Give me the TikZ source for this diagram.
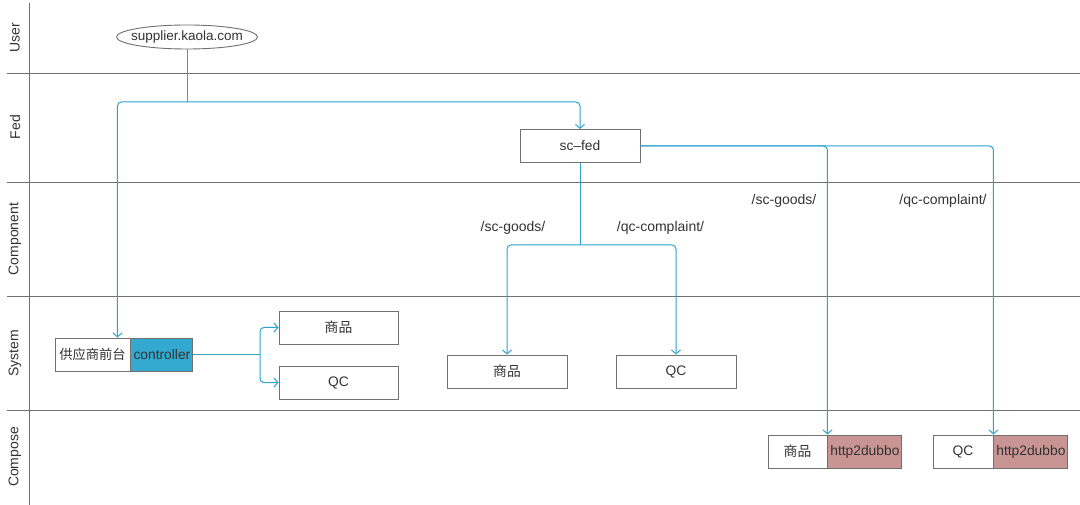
\documentclass[tikz,border=0pt]{standalone}
\usepackage{fontspec}
\setmainfont{Liberation Sans}
\newfontfamily\cjk{Noto Sans CJK SC}
\usetikzlibrary{arrows.meta,shapes.geometric}
\definecolor{lane}{HTML}{707070}
\definecolor{flow}{HTML}{2EA3CF}
\definecolor{ctrl}{HTML}{34A9CF}
\definecolor{dub}{HTML}{C99594}
\definecolor{txt}{HTML}{333333}
\tikzset{
  box/.style={draw=lane, line width=0.9pt, fill=white, minimum height=33pt, minimum width=120pt,
    inner sep=0pt, font=\fontsize{13.8}{16}\selectfont, text=txt},
  flowline/.style={draw=flow, line width=1pt, rounded corners=4pt},
  arr/.style={-{Straight Barb[length=4pt,width=9pt]}},
  laneline/.style={draw=lane, line width=0.9pt},
  lanelbl/.style={rotate=90, font=\fontsize{14}{16}\selectfont, text=txt},
  lbl/.style={font=\fontsize{14}{16}\selectfont, text=txt, inner sep=0pt}
}
\begin{document}
\begin{tikzpicture}[x=1pt,y=-1pt]
\useasboundingbox[fill=white] (0,0) rectangle (1080,505);
% lanes
\draw[laneline] (29,3) -- (29,505);
\draw[laneline] (7,73) -- (1080,73);
\draw[laneline] (7,182) -- (1080,182);
\draw[laneline] (7,296) -- (1080,296);
\draw[laneline] (7,410) -- (1080,410);
\node[lanelbl] (lu) at (15,38) {User};
\node[lanelbl] (lf) at (15,127) {Fed};
\node[lanelbl] (lc) at (15,239) {Component};
\node[lanelbl] (ls) at (15,353) {System};
\node[lanelbl] (lo) at (15,457) {Compose};
% nodes
\node[ellipse, draw=lane, line width=0.9pt, minimum width=141pt, minimum height=24pt, inner sep=0pt,
  font=\fontsize{13.5}{16}\selectfont, text=txt] (sup) at (187,37) {\makebox[0pt]{supplier.kaola.com}};
\node[box] (fed) at (580,146) {sc–fed};
\node[box, minimum width=75pt] (gys) at (92.5,354.5) {\cjk\fontsize{13.3}{16}\selectfont 供应商前台};
\node[box, fill=ctrl, minimum width=62pt, anchor=west] (ctl) at (gys.east) {controller};
\node[box, minimum width=119pt] (sp1) at (338.5,327.5) {\cjk 商品};
\node[box, minimum width=119pt] (qc1) at (338.5,382.5) {QC};
\node[box] (sp2) at (507,371.5) {\cjk 商品};
\node[box] (qc2) at (676,371.5) {QC};
\node[box, minimum width=59pt] (sp3) at (797.5,451.5) {\cjk 商品};
\node[box, fill=dub, minimum width=74pt, anchor=west] (hd1) at (sp3.east) {http2dubbo};
\node[box, minimum width=60pt] (qc3) at (963,451.5) {QC};
\node[box, fill=dub, minimum width=74pt, anchor=west] (hd2) at (qc3.east) {http2dubbo};
% labels
\node[lbl] (l1) at (513,228) {/sc-goods/};
\node[lbl] (l2) at (660.5,228) {/qc-complaint/};
\node[lbl] (l3) at (784,201) {/sc-goods/};
\node[lbl] (l4) at (943,201) {/qc-complaint/};
% connectors
\coordinate (j1) at (187,102);
\draw[flowline] (sup.south) -- (j1);
\draw[flowline, arr] (j1) -| ([xshift=-13pt]gys.north east);
\draw[flowline, arr] (j1) -| (fed.north);
\coordinate (j2) at (580,245);
\draw[flowline] (fed.south) -- (j2);
\draw[flowline, arr] (j2) -| (sp2.north);
\draw[flowline, arr] (j2) -| (qc2.north);
\coordinate (j3) at (260,354.5);
\draw[flowline] (ctl.east) -- (j3);
\draw[flowline, arr] (j3) |- (sp1.west);
\draw[flowline, arr] (j3) |- (qc1.west);
\draw[flowline, arr] (fed.east) -| (hd1.north west);
\draw[flowline, arr] (fed.east) -| (hd2.north west);
\end{tikzpicture}
\end{document}
